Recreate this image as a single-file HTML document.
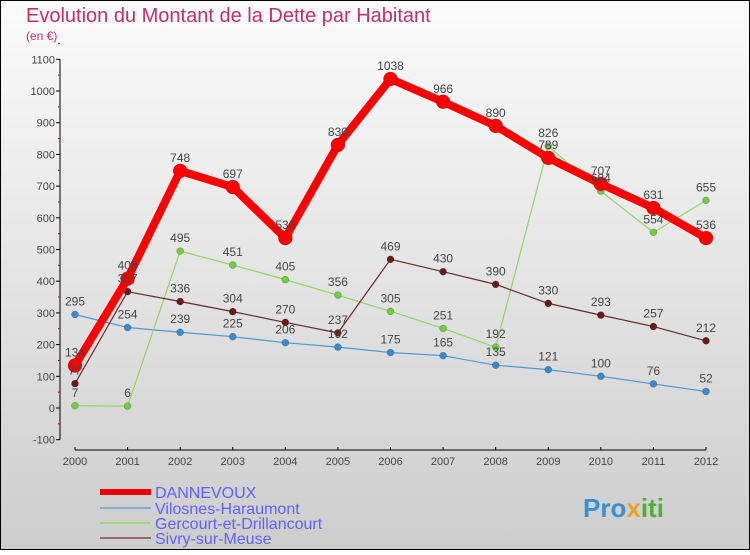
<!DOCTYPE html>
<html><head><meta charset="utf-8"><style>
body{margin:0;width:750px;height:550px;overflow:hidden;font-family:"Liberation Sans",sans-serif}
svg text{font-family:"Liberation Sans",sans-serif}
</style></head><body>
<svg id="chart" width="750" height="550" xmlns="http://www.w3.org/2000/svg">
<defs><linearGradient id="bg" x1="0" y1="0" x2="0" y2="1"><stop offset="0" stop-color="#fbfbfb"/><stop offset="1" stop-color="#cdcdcd"/></linearGradient></defs>
<rect x="0.5" y="0.5" width="749" height="549" fill="url(#bg)" stroke="#000"/>
<text x="26" y="22" font-size="20" fill="#c0306a">Evolution du Montant de la Dette par Habitant</text>
<text x="26" y="40" font-size="12" fill="#c0306a">(en €)</text>
<g id="axes"></g><g id="series"></g><g id="labels"></g>
<g>
<line x1="100" y1="492" x2="151" y2="492" stroke="#e00" stroke-width="6"/>
<text x="155" y="498" font-size="16" fill="#6060ff">DANNEVOUX</text>
<line x1="100" y1="508" x2="151" y2="508" stroke="#7ab0d6" stroke-width="2"/>
<text x="155" y="514" font-size="16" fill="#6060ff">Vilosnes-Haraumont</text>
<line x1="100" y1="523" x2="151" y2="523" stroke="#9ed67a" stroke-width="2"/>
<text x="155" y="529" font-size="16" fill="#6060ff">Gercourt-et-Drillancourt</text>
<line x1="100" y1="538" x2="151" y2="538" stroke="#9a6a6a" stroke-width="2"/>
<text x="155" y="544" font-size="16" fill="#6060ff">Sivry-sur-Meuse</text>
</g>
<text x="583" y="517" font-size="26" font-weight="bold" fill="#3a8fd0">Pro<tspan fill="#f0a020">x</tspan><tspan fill="#50b030">iti</tspan></text>
</svg>
<script>
const years=[2000,2001,2002,2003,2004,2005,2006,2007,2008,2009,2010,2011,2012];
const dannevoux=[134,408,748,697,536,830,1038,966,890,789,707,631,536];
const vilosnes=[295,254,239,225,206,192,175,165,135,121,100,76,52];
const gercourt=[7,6,495,451,405,356,305,251,192,826,684,554,655];
const sivry=[77,367,336,304,270,237,469,430,390,330,293,257,212];
const yTicks=[-100,0,100,200,300,400,500,600,700,800,900,1000,1100];
const NS="http://www.w3.org/2000/svg";
const x=i=>75+i*(706-75)/(years.length-1);
const y=v=>408-v*0.317;
function mk(tag,attrs,parent,txt){const e=document.createElementNS(NS,tag);for(const k in attrs)e.setAttribute(k,attrs[k]);if(txt!==undefined)e.textContent=txt;parent.appendChild(e);return e;}
const ax=document.getElementById('axes');
let yl=mk('line',{x1:60,y1:y(1100),x2:60,y2:y(-100),stroke:'#000'},ax);


yTicks.forEach(t=>{
  mk('line',{x1:56,x2:60,y1:y(t),y2:y(t),stroke:'#000'},ax);
  mk('line',{x1:58,x2:60,y1:y(t+50),y2:y(t+50),stroke:'#e00'},ax);
  const tx=mk('text',{x:55,y:y(t)+4,'font-size':11,'text-anchor':'end',fill:'#444'},ax,t);
  
  
});
let xl=mk('line',{x1:x(0),y1:450,x2:x(12),y2:450,stroke:'#000'},ax);


years.forEach((yr,i)=>{
  mk('line',{x1:x(i),x2:x(i),y1:447,y2:450,stroke:'#000'},ax);
  const tx=mk('text',{x:x(i),y:465,'font-size':11,'text-anchor':'middle',fill:'#444'},ax,yr);
  
  
});
const S=document.getElementById('series'),L=document.getElementById('labels');
function draw(vals,name,color,mcolor,w,r){
  const g=mk('g',{},S);
  
  
  mk('polyline',{points:vals.map((v,i)=>x(i)+','+y(v)).join(' '),fill:'none',stroke:color,'stroke-width':w,'stroke-linejoin':'round'},g);
  vals.forEach((v,i)=>{
    const c=mk('circle',{cx:x(i),cy:y(v),r:r,fill:mcolor,stroke:'rgba(0,0,0,0.3)','stroke-width':0.5},g);
    
    
    const t=mk('text',{x:x(i),y:y(v)-9,'font-size':12,'text-anchor':'middle',fill:'#444'},L,v);
    
    
  });
}
draw(vilosnes,'vilosnes','#4a9ad6','#3a8ad0',1.2,3.5);
draw(gercourt,'gercourt','#8ed860','#70cc40',1.2,3.5);
draw(sivry,'sivry','#6a2a2a','#6a1a1a',1.2,3.5);
draw(dannevoux,'dannevoux','#f00','#f00',8,7);
</script>
</body></html>
